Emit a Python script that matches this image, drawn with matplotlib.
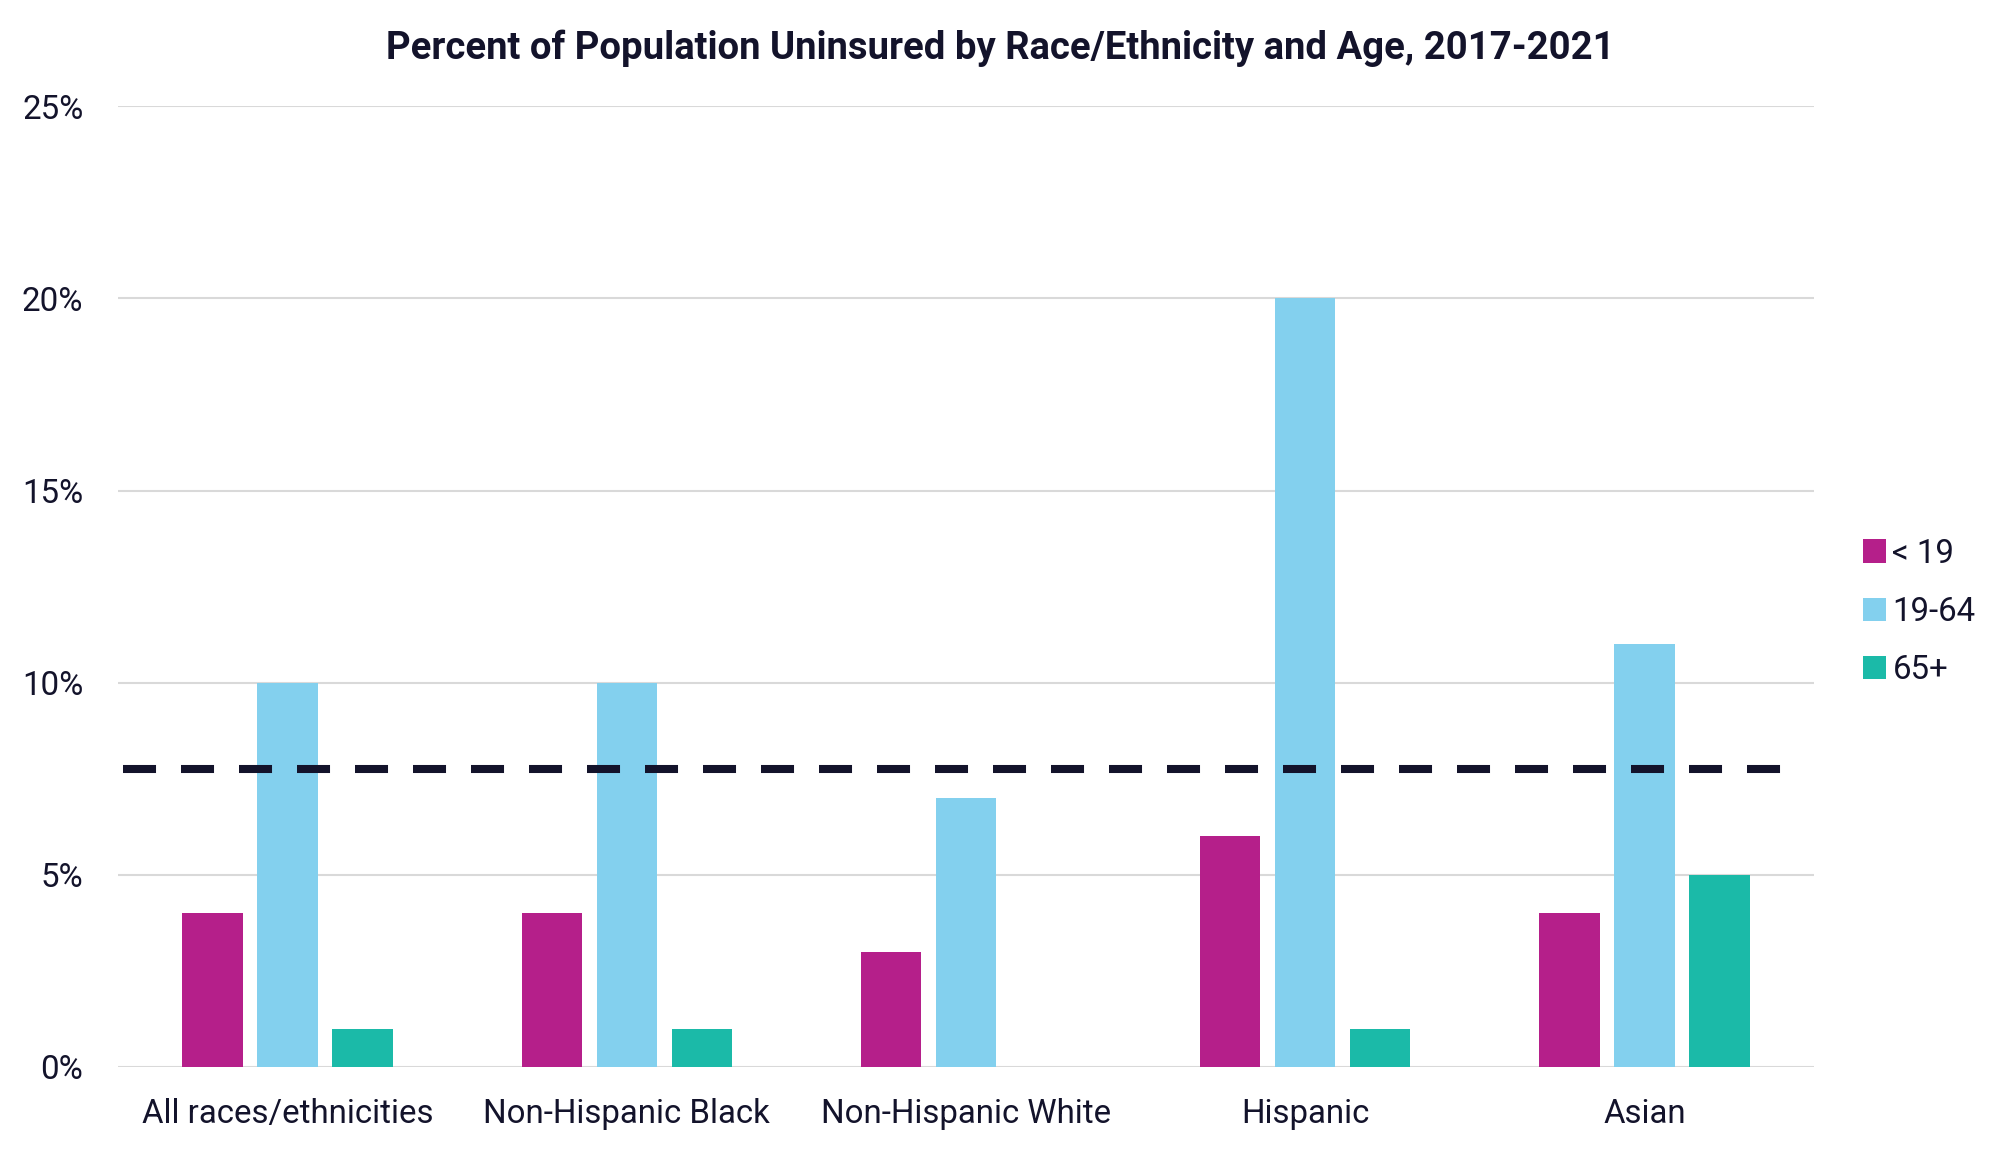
import matplotlib
matplotlib.use('Agg')
import matplotlib.pyplot as plt
import numpy as np

categories = ["All races/ethnicities", "Non-Hispanic Black", "Non-Hispanic White",
              "Hispanic", "Asian"]
under_19 = [4, 4, 3, 6, 4]
age_19_64 = [10, 10, 7, 20, 11]
age_65_plus = [1, 1, 0, 1, 5]
series_labels = ["< 19", "19-64", "65+"]
overall_rate = 7.75
y_ticks = [0, 5, 10, 15, 20, 25]

COLORS = ["#B51F8A", "#83D0EE", "#1BBAA8"]
TEXT = "#13132B"

plt.rcParams['font.family'] = ['Roboto', 'DejaVu Sans']

fig = plt.figure(figsize=(20, 11.52), dpi=100)
ax = fig.add_axes([0.059, 0.0738, 0.848, 0.834])

x = np.arange(len(categories))
width = 0.178
pitch = 0.221
handles = []
for i, (vals, col) in enumerate(zip([under_19, age_19_64, age_65_plus], COLORS)):
    h = ax.bar(x + (i - 1) * pitch, vals, width, color=col, zorder=3,
               label=series_labels[i])
    handles.append(h)

# overall average line
ax.axhline(overall_rate, xmin=0.003, xmax=0.984, color=TEXT, lw=5.8,
           dashes=(4.1, 3.1), zorder=4)

ax.set_xlim(-0.5, len(categories) - 0.5)
ax.set_ylim(0, 25)
ax.set_yticks(y_ticks)
ax.set_yticklabels([f"{t}%" for t in y_ticks])
ax.set_xticks(x)
ax.set_xticklabels(categories)
ax.tick_params(axis='both', length=0, labelsize=23.8, colors=TEXT)
ax.tick_params(axis='y', pad=25)
ax.tick_params(axis='x', pad=22)
ax.grid(axis='y', color='#D9D9D9', lw=1.5, zorder=0)
for s in ax.spines.values():
    s.set_visible(False)

fig.text(0.5, 1 - 48 / 1152, "Percent of Population Uninsured by Race/Ethnicity and Age, 2017-2021",
         ha='center', va='center', fontsize=27.5, fontweight='bold', color=TEXT)

fig.legend(handles=handles, loc='center left', bbox_to_anchor=(0.9165, 1 - 612 / 1152),
           frameon=False, fontsize=23.8, handlelength=0.7, handleheight=0.7,
           handletextpad=0.2, labelspacing=0.8, labelcolor=TEXT)

fig.savefig("out.png", dpi=100)
